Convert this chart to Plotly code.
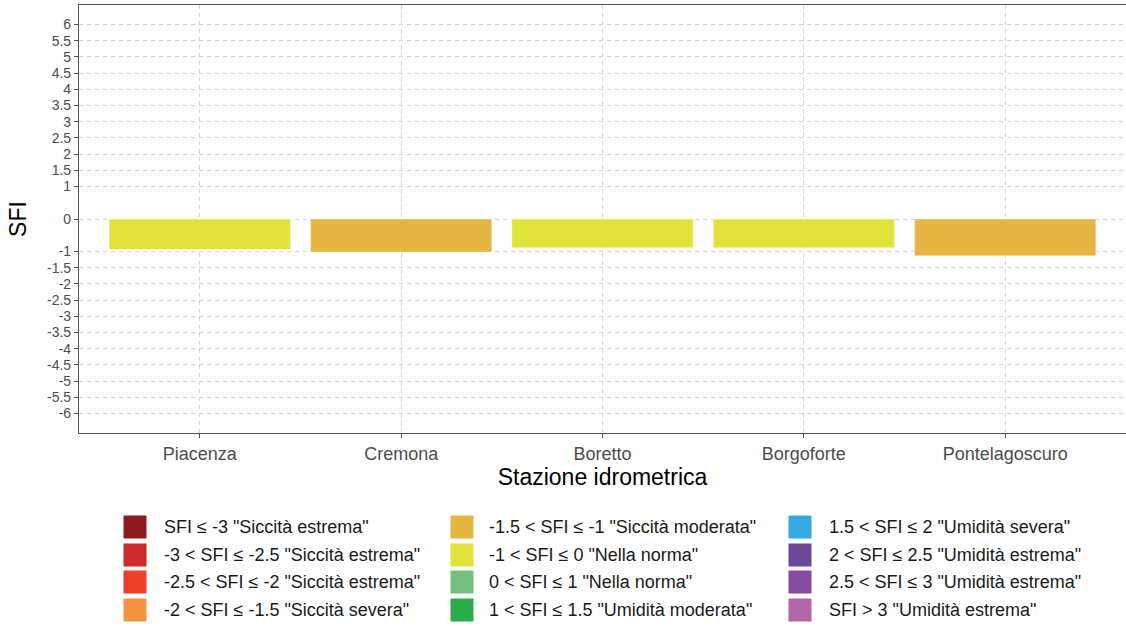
import plotly.graph_objects as go

# ---------------- data ----------------
stations = ["Piacenza", "Cremona", "Boretto", "Borgoforte", "Pontelagoscuro"]
sfi_values = [-0.94, -1.02, -0.89, -0.89, -1.13]

class_labels = [
    'SFI ≤ -3 "Siccità estrema"',
    '-3 < SFI ≤ -2.5 "Siccità estrema"',
    '-2.5 < SFI ≤ -2 "Siccità estrema"',
    '-2 < SFI ≤ -1.5 "Siccità severa"',
    '-1.5 < SFI ≤ -1 "Siccità moderata"',
    '-1 < SFI ≤ 0 "Nella norma"',
    '0 < SFI ≤ 1 "Nella norma"',
    '1 < SFI ≤ 1.5 "Umidità moderata"',
    '1.5 < SFI ≤ 2 "Umidità severa"',
    '2 < SFI ≤ 2.5 "Umidità estrema"',
    '2.5 < SFI ≤ 3 "Umidità estrema"',
    'SFI > 3 "Umidità estrema"',
]
class_upper = [-3, -2.5, -2, -1.5, -1, 0, 1, 1.5, 2, 2.5, 3, float("inf")]
class_colors = [
    "#8E1A1F", "#CC2B2B", "#EE3E2C", "#F5943F",
    "#E6B643", "#E1E33B", "#72C07F", "#2BAE4A",
    "#36A9E0", "#6B4A9A", "#8549A0", "#B464A8",
]

y_tick_values = [6, 5.5, 5, 4.5, 4, 3.5, 3, 2.5, 2, 1.5, 1, 0,
                 -1, -1.5, -2, -2.5, -3, -3.5, -4, -4.5, -5, -5.5, -6]
y_tick_labels = ["6", "5.5", "5", "4.5", "4", "3.5", "3", "2.5", "2", "1.5", "1", "0",
                 "-1", "-1.5", "-2", "-2.5", "-3", "-3.5", "-4", "-4.5", "-5", "-5.5", "-6"]


def classify(v):
    for i, up in enumerate(class_upper):
        if v <= up:
            return i
    return len(class_upper) - 1


bar_colors = [class_colors[classify(v)] for v in sfi_values]

# ---------------- figure ----------------
W, H = 1126, 626
ML, MR, MT, MB = 79, 0, 5, 193
PW, PH = W - ML - MR, H - MT - MB

fig = go.Figure()
fig.add_trace(go.Bar(
    x=stations, y=sfi_values, width=0.9,
    marker=dict(color=bar_colors, line=dict(color="rgba(255,255,255,0.6)", width=0.6)),
    showlegend=False,
))

grid = dict(showgrid=True, gridcolor="#D4D4D4", gridwidth=1, griddash="4px,4px")
fig.update_layout(
    width=W, height=H,
    margin=dict(l=ML, r=MR, t=MT, b=MB),
    paper_bgcolor="white", plot_bgcolor="white",
    font=dict(family="Liberation Sans, Arial, sans-serif"),
    xaxis=dict(
        range=[-0.6, 4.6], showline=True, linecolor="#555555", linewidth=1.2, mirror=True,
        ticks="outside", ticklen=4, tickcolor="#555555",
        tickfont=dict(size=18, color="#4D4D4D"),
        title=dict(text="Stazione idrometrica", font=dict(size=23, color="black"), standoff=3),
        **grid,
    ),
    yaxis=dict(
        range=[-6.6, 6.6], tickvals=y_tick_values, ticktext=y_tick_labels,
        showline=True, linecolor="#555555", linewidth=1.2, zeroline=False,
        ticks="outside", ticklen=4, tickcolor="#555555",
        tickfont=dict(size=14, color="#4D4D4D"),
        title=dict(text="SFI", font=dict(size=23, color="black"), standoff=13),
        **grid,
    ),
)

# ---------------- legend (3 columns, filled by column) ----------------
col_box_x = [123, 450, 788]
col_text_x = [162, 487, 827]
row_y = [527, 555, 582, 610]
box = 24
for i, (lab, col) in enumerate(zip(class_labels, class_colors)):
    c, r = i // 4, i % 4
    x0 = (col_box_x[c] - ML) / PW
    x1 = (col_box_x[c] + box - ML) / PW
    y0 = (H - MB - (row_y[r] + box / 2)) / PH
    y1 = (H - MB - (row_y[r] - box / 2)) / PH
    fig.add_shape(type="rect", xref="paper", yref="paper", x0=x0, x1=x1, y0=y0, y1=y1,
                  fillcolor=col, line=dict(color="white", width=1))
    fig.add_annotation(xref="paper", yref="paper",
                       x=(col_text_x[c] - ML) / PW, y=(H - MB - row_y[r]) / PH,
                       text=lab, showarrow=False, xanchor="left", yanchor="middle",
                       font=dict(size=18, color="#1A1A1A"))

fig.write_html("out.html",
               config={"displayModeBar": False},
               post_script="document.body.style.margin='0';document.body.style.overflow='hidden';")
